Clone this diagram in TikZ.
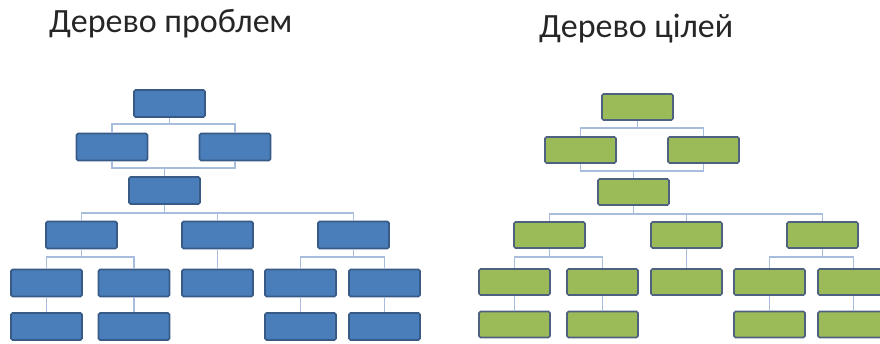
\documentclass[tikz,border=0pt]{standalone}
\usepackage{fontspec}
\setmainfont{Carlito}
\usepackage{tikz}
\usetikzlibrary{positioning}
\definecolor{probfill}{RGB}{74,126,187}
\definecolor{probdraw}{RGB}{56,90,135}
\definecolor{goalfill}{RGB}{155,187,89}
\definecolor{goaldraw}{RGB}{78,98,128}
\definecolor{linkcol}{RGB}{168,188,222}
\tikzset{
    problem/.style={
        rectangle, rounded corners=1.5pt, draw=probdraw, line width=1.6pt,
        minimum width=71pt, minimum height=27pt,
        fill=probfill, inner sep=0pt
    },
    goal/.style={
        rectangle, rounded corners=1.5pt, draw=goaldraw, line width=1.6pt,
        minimum width=71pt, minimum height=26pt,
        fill=goalfill, inner sep=0pt
    },
    link/.style={draw=linkcol, line width=1.3pt},
    heading/.style={font=\fontsize{34}{40}\selectfont, text=black!85, inner sep=0pt, anchor=base west}
}
\begin{document}
\begin{tikzpicture}[x=1pt, y=-1pt]
\useasboundingbox (0,0) rectangle (880,344);
\clip (0,0) rectangle (880,344);

% Headings
\node[heading] (tp) at (49,33) {Дерево проблем};
\node[heading] (tc) at (539,38) {Дерево цілей};

% Problem tree
\node[problem] (p0) at (169.5,103.5) {};
\node[problem] (p1) at (112,147) {};
\node[problem] (p2) at (235,147) {};
\node[problem] (p3) at (164.5,190.5) {};
\node[problem] (p4) at (81.5,235) {};
\node[problem] (p5) at (217.5,235) {};
\node[problem] (p6) at (353.5,235) {};
\node[problem] (p7) at (46.5,283) {};
\node[problem] (p8) at (134,283) {};
\node[problem] (p9) at (217.5,283) {};
\node[problem] (p10) at (300.5,283) {};
\node[problem] (p11) at (384.5,283) {};
\node[problem] (p12) at (46.5,326.5) {};
\node[problem] (p13) at (134,326.5) {};
\node[problem] (p14) at (300.5,326.5) {};
\node[problem] (p15) at (384.5,326.5) {};

\coordinate (pj0) at (169.5,124);
\coordinate (pj1) at (164.5,168);
\coordinate (pj2) at (164.5,213);
\coordinate (pj3) at (81.5,257);
\coordinate (pj4) at (353.5,257);

\draw[link] (p0) -- (pj0) -| (p1);
\draw[link] (pj0) -| (p2);
\draw[link] (p1) |- (pj1);
\draw[link] (p2) |- (pj1);
\draw[link] (pj1) -- (p3);
\draw[link] (p3) -- (pj2) -| (p4);
\draw[link] (pj2) -| (p5);
\draw[link] (pj2) -| (p6);
\draw[link] (p4) -- (pj3) -| (p7);
\draw[link] (pj3) -| (p8);
\draw[link] (p5) -- (p9);
\draw[link] (p6) -- (pj4) -| (p10);
\draw[link] (pj4) -| (p11);
\draw[link] (p7) -- (p12);
\draw[link] (p8) -- (p13);
\draw[link] (p10) -- (p14);
\draw[link] (p11) -- (p15);

% Goal tree
\node[goal] (g0) at (637.5,107) {};
\node[goal] (g1) at (580.5,150) {};
\node[goal] (g2) at (703.5,150) {};
\node[goal] (g3) at (633.5,192) {};
\node[goal] (g4) at (549.5,235) {};
\node[goal] (g5) at (686.5,235) {};
\node[goal] (g6) at (822.5,235) {};
\node[goal] (g7) at (514.5,282) {};
\node[goal] (g8) at (602.5,282) {};
\node[goal] (g9) at (686.5,282) {};
\node[goal] (g10) at (769.5,282) {};
\node[goal] (g11) at (853.5,282) {};
\node[goal] (g12) at (514.5,324.5) {};
\node[goal] (g13) at (602.5,324.5) {};
\node[goal] (g14) at (769.5,324.5) {};
\node[goal] (g15) at (853.5,324.5) {};

\coordinate (gj0) at (637.5,128);
\coordinate (gj1) at (633.5,171);
\coordinate (gj2) at (633.5,214);
\coordinate (gj3) at (549.5,257);
\coordinate (gj4) at (822.5,257);

\draw[link] (g0) -- (gj0) -| (g1);
\draw[link] (gj0) -| (g2);
\draw[link] (g1) |- (gj1);
\draw[link] (g2) |- (gj1);
\draw[link] (gj1) -- (g3);
\draw[link] (g3) -- (gj2) -| (g4);
\draw[link] (gj2) -| (g5);
\draw[link] (gj2) -| (g6);
\draw[link] (g4) -- (gj3) -| (g7);
\draw[link] (gj3) -| (g8);
\draw[link] (g5) -- (g9);
\draw[link] (g6) -- (gj4) -| (g10);
\draw[link] (gj4) -| (g11);
\draw[link] (g7) -- (g12);
\draw[link] (g8) -- (g13);
\draw[link] (g10) -- (g14);
\draw[link] (g11) -- (g15);

\end{tikzpicture}
\end{document}
